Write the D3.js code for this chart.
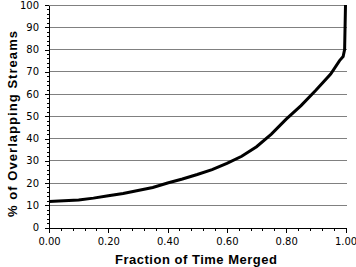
<!DOCTYPE html>
<meta charset="utf-8">
<style>
body { margin: 0; background: #fff; }
svg { font-family: "DejaVu Sans", sans-serif; }
.axis path, .axis line { fill: none; stroke: #000; shape-rendering: crispEdges; }
.grid line { stroke: #808080; shape-rendering: crispEdges; }
.title { font-family: "Liberation Sans", Arial, sans-serif; font-weight: bold; font-size: 13px; }
</style>
<div id="chart"></div>
<script src="https://d3js.org/d3.v7.min.js"></script>
<script>
// fraction of time merged vs % of overlapping streams
var fraction = [0, 0.05, 0.10, 0.15, 0.20, 0.25, 0.30, 0.35, 0.40, 0.45, 0.50, 0.55,
                0.60, 0.65, 0.70, 0.75, 0.80, 0.85, 0.90, 0.95, 0.98, 0.992, 0.997, 1.0];
var overlap  = [11.7, 12.0, 12.4, 13.2, 14.3, 15.3, 16.6, 18.0, 20.0, 21.8, 23.8, 26.0,
                28.8, 32.0, 36.3, 42.0, 48.7, 54.8, 61.7, 69.0, 75.0, 76.8, 80.0, 100];
var xTicks = [0, 0.2, 0.4, 0.6, 0.8, 1.0];
var yTicks = [0, 10, 20, 30, 40, 50, 60, 70, 80, 90, 100];

var width = 356, height = 267;
var svg = d3.select("#chart").append("svg")
    .attr("width", width)
    .attr("height", height);

var x = d3.scaleLinear().domain([0, 1]).range([49, 345.5]);
var y = d3.scaleLinear().domain([0, 100]).range([227.5, 5]);

// grid
svg.append("g").attr("class", "grid")
  .selectAll("line").data(yTicks.slice(1)).enter().append("line")
    .attr("x1", x(0)).attr("x2", x(1) + 1)
    .attr("y1", function(d) { return y(d); })
    .attr("y2", function(d) { return y(d); });

// minor ticks
svg.append("g").attr("class", "axis")
    .attr("transform", "translate(0," + y(0) + ")")
    .call(d3.axisBottom(x).tickValues(d3.range(0, 1.0001, 0.04)).tickSize(3).tickFormat(""))
    .select(".domain").remove();
svg.append("g").attr("class", "axis")
    .attr("transform", "translate(" + x(0) + ",0)")
    .call(d3.axisLeft(y).tickValues(d3.range(0, 101, 2)).tickSize(2).tickFormat(""))
    .select(".domain").remove();

// major axes
var xAxis = svg.append("g").attr("class", "axis")
    .attr("transform", "translate(0," + y(0) + ")")
    .call(d3.axisBottom(x).tickValues(xTicks).tickSize(5).tickSizeOuter(0)
      .tickPadding(5).tickFormat(d3.format(".2f")));
xAxis.selectAll("text").attr("font-size", 10).attr("font-family", "DejaVu Sans");

var yAxis = svg.append("g").attr("class", "axis")
    .attr("transform", "translate(" + x(0) + ",0)")
    .call(d3.axisLeft(y).tickValues(yTicks).tickSize(4).tickSizeOuter(0).tickPadding(6));
yAxis.selectAll("text").attr("font-size", 10).attr("font-family", "DejaVu Sans");

// curve
var pts = fraction.map(function(f, i) { return [f, overlap[i]]; });
svg.append("path")
    .datum(pts)
    .attr("fill", "none")
    .attr("stroke", "#000")
    .attr("stroke-width", 3)
    .attr("d", d3.line().x(function(d) { return x(d[0]); }).y(function(d) { return y(d[1]); }));

// labels
svg.append("text").attr("class", "title")
    .attr("x", 196).attr("y", 264)
    .attr("text-anchor", "middle")
    .attr("textLength", 162).attr("lengthAdjust", "spacing")
    .text("Fraction of Time Merged");

svg.append("text").attr("class", "title")
    .attr("transform", "translate(17,124) rotate(-90)")
    .attr("text-anchor", "middle")
    .attr("textLength", 186).attr("lengthAdjust", "spacing")
    .text("% of Overlapping Streams");
</script>
